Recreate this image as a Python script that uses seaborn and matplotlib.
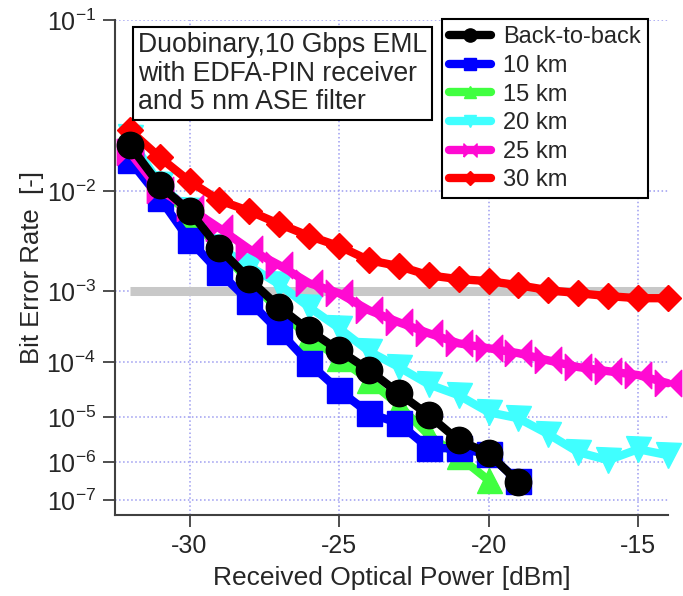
import numpy as np
import matplotlib
matplotlib.use("Agg")
import matplotlib.pyplot as plt
import seaborn as sns
from matplotlib.ticker import FixedLocator, NullLocator

# ==========================
# Data
# ==========================

power_b2b = [-32, -31, -30, -29, -28, -27, -26, -25, -24, -23, -22, -21, -20, -19]
ber_b2b = [2.19e-2, 1.12e-2, 6.8e-3, 3.0e-3, 1.39e-3, 6.3e-4, 3.06e-4,
           1.54e-4, 7.4e-5, 2.9e-5, 1.1e-5, 3.2e-6, 1.64e-6, 3.1e-7]

power_10km = [-32, -31, -30, -29, -28, -27, -26, -25, -24, -23, -22, -21, -20, -19]
ber_10km = [1.72e-2, 8.8e-3, 3.64e-3, 1.67e-3, 7.5e-4, 2.96e-4, 9.6e-5,
            3.3e-5, 1.2e-5, 7.5e-6, 2.14e-6, 2.14e-6, 1.55e-6, 3.3e-7]

power_15km = [-32, -31, -30, -29, -28, -27, -26, -25, -24, -23, -22, -21, -20]
ber_15km = [2.09e-2, 1.06e-2, 6.4e-3, 2.88e-3, 1.32e-3, 5.75e-4, 2.42e-4,
            1.16e-4, 5.0e-5, 1.73e-5, 4.2e-6, 1.39e-6, 3.5e-7]

power_20km = [-32, -31, -30, -29, -28, -27, -26, -25, -24, -23, -22, -21, -20,
              -19, -18, -17, -16, -15, -14]
ber_20km = [2.47e-2, 1.14e-2, 6.9e-3, 3.09e-3, 1.95e-3, 1.21e-3, 6.3e-4,
            3.27e-4, 1.49e-4, 8.3e-5, 4.2e-5, 2.67e-5, 1.26e-5, 9.5e-6,
            4.4e-6, 1.73e-6, 1.12e-6, 2.03e-6, 1.47e-6]

power_25km = [-32, -31, -30, -29, -28, -27, -26, -25, -24, -23, -22, -21, -20,
              -19, -18, -17, -16, -15, -14]
ber_25km = [1.96e-2, 1.02e-2, 7.2e-3, 4.75e-3, 2.95e-3, 2.0e-3, 1.25e-3,
            9.45e-4, 5.75e-4, 3.96e-4, 2.77e-4, 1.97e-4, 1.66e-4, 1.39e-4,
            1.07e-4, 8.3e-5, 7.1e-5, 6.1e-5, 4.4e-5]

power_30km = [-32, -31, -30, -29, -28, -27, -26, -25, -24, -23, -22, -21, -20,
              -19, -18, -17, -16, -15, -14]
ber_30km = [2.74e-2, 1.81e-2, 1.2e-2, 8.4e-3, 6.8e-3, 5.2e-3, 4.0e-3,
            3.17e-3, 2.26e-3, 1.95e-3, 1.54e-3, 1.39e-3, 1.32e-3, 1.18e-3,
            1.03e-3, 9.45e-4, 8.7e-4, 8.2e-4, 8.2e-4]

fec_limit = 1e-3
fec_power = [-32, -14]

ber_ticks = [1e-1, 1e-2, 1e-3, 1e-4, 1e-5, 1e-6, 1e-7]
ber_ticklabels = [r"$\mathregular{10^{-1}}$", r"$\mathregular{10^{-2}}$",
                  r"$\mathregular{10^{-3}}$", r"$\mathregular{10^{-4}}$",
                  r"$\mathregular{10^{-5}}$", r"$\mathregular{10^{-6}}$",
                  r"$\mathregular{10^{-7}}$"]
power_ticks = [-30, -25, -20, -15]

# bowtie marker for the 25 km curve
bowtie = [(-1, -1), (-1, 1), (0, 0), (1, 1), (1, -1), (0, 0), (-1, -1)]

# name, x, y, colour, marker, marker size, drawing order
series = [
    ("Back-to-back", power_b2b, ber_b2b, "#000000", "o", 19, 2.6),
    ("10 km", power_10km, ber_10km, "#0000ff", "s", 18, 2.3),
    ("15 km", power_15km, ber_15km, "#40ff40", "^", 18, 2.1),
    ("20 km", power_20km, ber_20km, "#40ffff", "v", 18, 2.2),
    ("25 km", power_25km, ber_25km, "#ff0ad2", bowtie, 19, 2.4),
    ("30 km", power_30km, ber_30km, "#ff0000", "D", 13.5, 2.5),
]

# ==========================
# Q-style BER axis: -log10(-log10(BER))
# ==========================

def fwd(y):
    with np.errstate(all="ignore"):
        return -np.log10(-np.log10(y))

def inv(t):
    with np.errstate(all="ignore"):
        return 10.0 ** (-(10.0 ** (-t)))

# ==========================
# Plot
# ==========================

sns.set_style("white")
plt.rcParams["font.family"] = ["Liberation Sans", "DejaVu Sans"]
plt.rcParams["mathtext.default"] = "regular"
plt.rcParams["axes.unicode_minus"] = False

fig, ax = plt.subplots(figsize=(6.83, 5.96), dpi=100)
fig.subplots_adjust(left=0.168, right=0.978, bottom=0.136, top=0.966)

ax.plot(fec_power, [fec_limit, fec_limit], color="#c8c8c8", lw=6.5,
        solid_capstyle="butt", zorder=1.5)

for name, x, y, color, marker, ms, z in series:
    sns.lineplot(x=x, y=y, ax=ax, color=color, marker=marker, markersize=ms,
                 markeredgecolor=color, markeredgewidth=1, lw=6,
                 label=name, clip_on=False, errorbar=None, zorder=z)

ax.set_yscale("function", functions=(fwd, inv))
ax.set_ylim(3.7e-8, 0.1)
ax.set_xlim(-32.5, -14.0)

ax.yaxis.set_major_locator(FixedLocator(ber_ticks))
ax.yaxis.set_minor_locator(NullLocator())
ax.set_yticklabels(ber_ticklabels)
ax.set_xticks(power_ticks)
ax.set_xticklabels([str(t) for t in power_ticks])

ax.grid(True, color="#9c9cf0", linestyle=":", linewidth=1.1)
ax.set_axisbelow(True)

for side in ["top", "right"]:
    ax.spines[side].set_visible(False)
for side in ["left", "bottom"]:
    ax.spines[side].set_color("#404040")
    ax.spines[side].set_linewidth(1.5)

ax.tick_params(direction="out", length=8.5, width=1.3, color="#404040",
               labelsize=18, pad=5, left=True, bottom=True)

ax.set_xlabel("Received Optical Power [dBm]", fontsize=19, labelpad=6)
ax.set_ylabel("Bit Error Rate  [-]", fontsize=18.5, labelpad=2)

ax.text(0.042, 0.976, "Duobinary,10 Gbps EML\nwith EDFA-PIN receiver\nand 5 nm ASE filter",
        transform=ax.transAxes, ha="left", va="top", fontsize=19.2,
        linespacing=1.12, zorder=6,
        bbox=dict(boxstyle="square,pad=0.18", fc="white", ec="black", lw=1.5))

handles, labels = ax.get_legend_handles_labels()
leg = ax.legend(handles, labels, loc="upper right",
                bbox_to_anchor=(0.964, 1.002), borderaxespad=0, fontsize=17,
                markerscale=0.5, frameon=True, fancybox=False,
                edgecolor="black", framealpha=1, handlelength=1.8,
                handletextpad=0.5, labelspacing=0.28, borderpad=0.3)
leg.get_frame().set_linewidth(1.5)

plt.savefig("out.png", dpi=100)
